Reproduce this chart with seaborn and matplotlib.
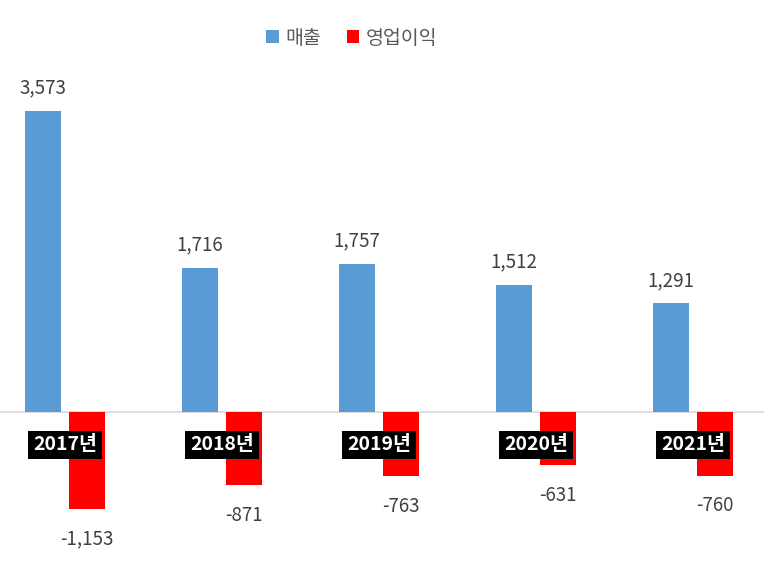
import matplotlib
matplotlib.use("Agg")
import matplotlib.pyplot as plt
import seaborn as sns
import pandas as pd

years = ["2017년", "2018년", "2019년", "2020년", "2021년"]
sales = [3573, 1716, 1757, 1512, 1291]
profit = [-1153, -871, -763, -631, -760]
series_names = ["매출", "영업이익"]
colors = ["#5B9BD5", "#FF0000"]

df = pd.DataFrame({
    "year": years * 2,
    "value": sales + profit,
    "series": [series_names[0]] * len(years) + [series_names[1]] * len(years),
})

sns.set_theme(style="white")
plt.rcParams["font.family"] = ["Noto Sans CJK KR", "DejaVu Sans"]

fig = plt.figure(figsize=(7.64, 5.64), dpi=100)
ax = fig.add_axes([0, 0, 1, 1])

sns.barplot(data=df, x="year", y="value", hue="series", palette=colors,
            saturation=1, linewidth=0, width=0.56, gap=0.18, ax=ax, legend=True)

scale = 0.0842  # px per unit
ax.set_ylim(-(564 - 412) / scale, 412 / scale)
ax.set_xlim(-65 / 157, 4 + (764 - 693) / 157)
ax.axhline(0, color="#d9d9d9", lw=1.2, zorder=0)

ax.bar_label(ax.containers[0], labels=[f"{v:,}" for v in sales], padding=9,
             fontsize=13.5, color="#404040")
ax.bar_label(ax.containers[1], labels=[f"{v:,}" for v in profit], padding=14,
             fontsize=13.5, color="#404040")

for i, y in enumerate(years):
    ax.text(i, -(445 - 412) / scale, y, ha="center", va="center",
            fontsize=14, fontweight="bold", color="white", zorder=5,
            bbox=dict(boxstyle="square,pad=0.25", fc="black", ec="none"))

ax.set_xticks([])
ax.set_yticks([])
ax.set_xlabel("")
ax.set_ylabel("")
sns.despine(ax=ax, left=True, bottom=True)

leg = ax.legend(loc="center", bbox_to_anchor=(352 / 764, 1 - 38 / 564),
                ncol=2, frameon=False, fontsize=14, handlelength=0.65,
                handleheight=0.65, handletextpad=0.35, columnspacing=1.3)
for t in leg.get_texts():
    t.set_color("#595959")

fig.savefig("out.png", dpi=100)
